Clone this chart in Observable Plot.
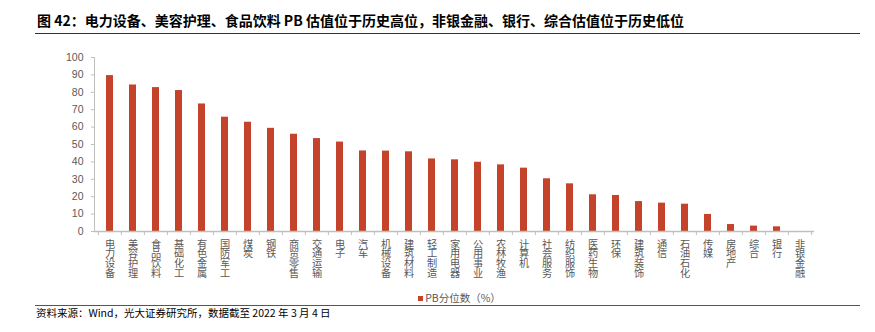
<!DOCTYPE html>
<html><head><meta charset="utf-8">
<script src="https://cdn.jsdelivr.net/npm/d3@7"></script>
<script src="https://cdn.jsdelivr.net/npm/@observablehq/plot@0.6"></script>
<style>
body{margin:0;background:#fff;}
#wrap{position:relative;width:875px;height:332px;overflow:hidden;background:#fff;font-family:"Noto Sans CJK SC","Liberation Sans",sans-serif;}
#title{position:absolute;left:37px;top:11px;font-size:14px;font-weight:bold;line-height:18px;color:#000;white-space:nowrap;}
.hr{position:absolute;left:35px;width:825px;height:0;}
#chart{position:absolute;left:0;top:40px;}
#legend{position:absolute;left:0;width:875px;top:290px;text-align:center;font-size:10.5px;line-height:16px;color:#595959;padding-left:44px;box-sizing:border-box;}
#legend .sw{display:inline-block;width:5px;height:5px;margin-right:2px;vertical-align:1px;}
#source{position:absolute;left:36px;top:305px;font-size:10.5px;line-height:15px;color:#000;white-space:nowrap;}
</style></head>
<body>
<div id="wrap">
  <div id="title">图 42：电力设备、美容护理、食品饮料 PB 估值位于历史高位，非银金融、银行、综合估值位于历史低位</div>
  <div class="hr" style="top:33px;border-top:1.5px solid #333;"></div>
  <div id="chart"></div>
  <div id="legend"><span class="sw"></span><span id="legendText"></span></div>
  <div class="hr" style="top:305px;border-top:1.2px solid #555;"></div>
  <div id="source">资料来源：Wind，光大证券研究所，数据截至 2022 年 3 月 4 日</div>
</div>
<script>
const categories = ["电力设备","美容护理","食品饮料","基础化工","有色金属","国防军工","煤炭","钢铁","商贸零售","交通运输","电子","汽车","机械设备","建筑材料","轻工制造","家用电器","公用事业","农林牧渔","计算机","社会服务","纺织服饰","医药生物","环保","建筑装饰","通信","石油石化","传媒","房地产","综合","银行","非银金融"];
const pbPercentile = [89.6,84.2,82.7,81.0,73.3,65.7,62.8,59.3,55.9,53.4,51.4,46.3,46.2,45.8,41.7,41.2,39.8,38.3,36.4,30.3,27.4,21.1,20.7,17.2,16.3,15.7,9.8,4.0,3.1,2.7,0];
const yTicks = [0,10,20,30,40,50,60,70,80,90,100];
const seriesName = "PB分位数（%）";

const barColor = "#c5432a";
const axisColor = "#bfbfbf";
const textColor = "#595959";

const data = categories.map((c, i) => ({cat: c, value: pbPercentile[i]}));

const W = 875, H = 250, mL = 94, mR = 61, mT = 17, mB = 59;
const step = (W - mL - mR) / categories.length;

const chart = Plot.plot({
  width: W, height: H,
  marginLeft: mL, marginRight: mR, marginTop: mT, marginBottom: mB,
  style: {fontFamily: "'Liberation Sans','Noto Sans CJK SC',sans-serif", background: "white", color: textColor, overflow: "visible"},
  x: {domain: categories, paddingInner: 0.7, paddingOuter: 0.35, axis: null, label: null},
  y: {domain: [0, 100], axis: null, label: null},
  marks: [
    Plot.axisY({ticks: yTicks, tickSize: 3, tickPadding: 8, stroke: axisColor, fill: textColor, fontSize: 10.5, tickFormat: d => String(d), label: null}),
    Plot.frame({anchor: "left", stroke: axisColor}),
    Plot.barY(data, {x: "cat", y: "value", fill: barColor}),
    Plot.ruleY([0], {stroke: axisColor, strokeWidth: 1.5}),
    Plot.axisX({tickSize: 4, tickFormat: () => "", dx: -step / 2, stroke: axisColor, label: null}),
    Plot.axisX({ticks: [categories[categories.length - 1]], tickSize: 4, tickFormat: () => "", dx: step / 2, stroke: axisColor, label: null}),
    Plot.text(categories, {x: d => d, text: d => d.split("").join("\n"), frameAnchor: "bottom", lineAnchor: "top", dy: 9, lineHeight: 0.97, fontSize: 10.2, fill: textColor, fontFamily: "'Noto Sans CJK SC',sans-serif"})
  ]
});
document.getElementById("chart").appendChild(chart);
document.querySelector("#legend .sw").style.background = barColor;
document.getElementById("legendText").textContent = seriesName;
</script>
</body></html>
